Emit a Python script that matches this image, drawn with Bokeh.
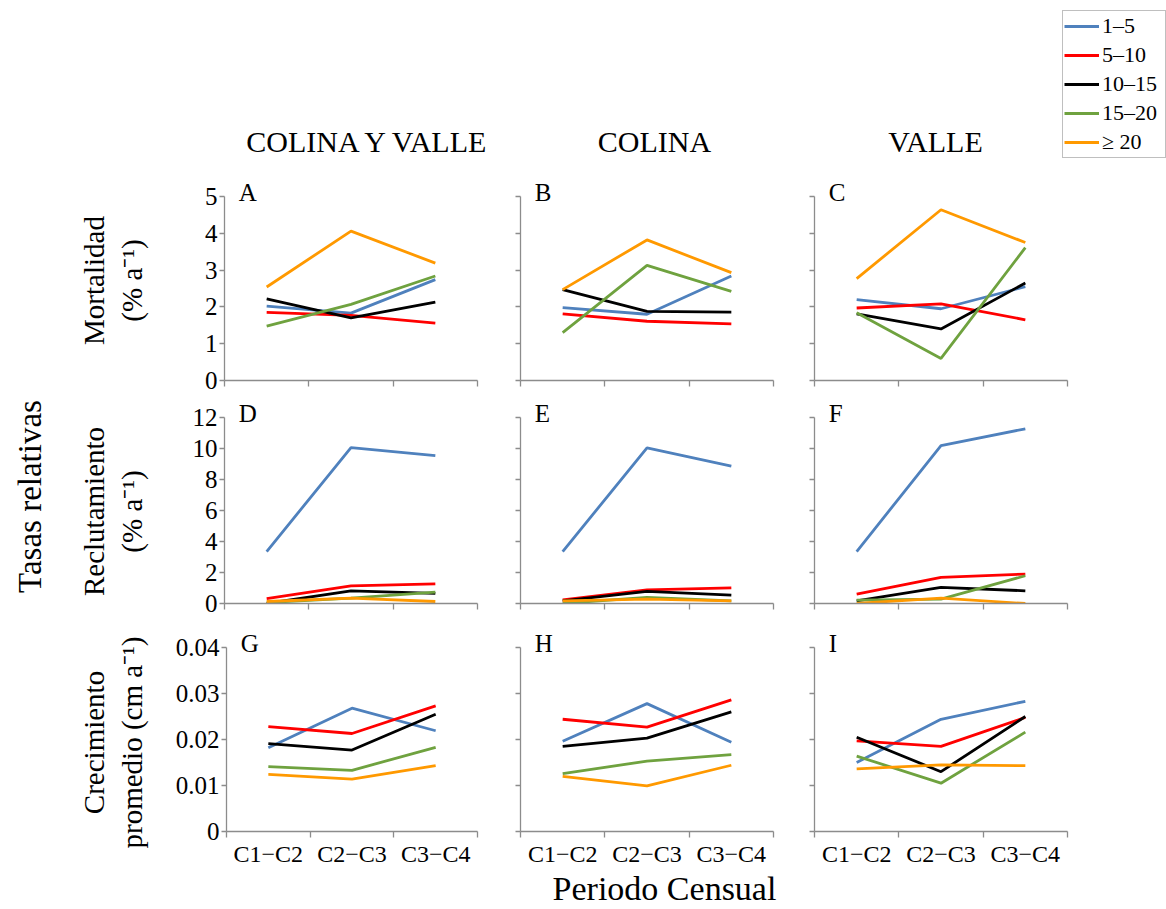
import math
from bokeh.plotting import figure
from bokeh.models import Range1d, FixedTicker, Label, Legend, LegendItem
from bokeh.layouts import row, column
from bokeh.embed import file_html
from bokeh.resources import INLINE

# ---------------- data ----------------
periods = ["C1−C2", "C2−C3", "C3−C4"]
size_classes = ["1–5", "5–10", "10–15", "15–20", "≥ 20"]
colors = ["#4f81bd", "#ff0000", "#000000", "#6fa23f", "#ff9900"]
zones = ["COLINA Y VALLE", "COLINA", "VALLE"]
panel_letters = [["A", "B", "C"], ["D", "E", "F"], ["G", "H", "I"]]

# rows: size classes 1–5, 5–10, 10–15, 15–20, >=20 ; columns: periods
mortalidad_colina_valle = [
    [2.02, 1.83, 2.74],
    [1.85, 1.77, 1.56],
    [2.22, 1.70, 2.13],
    [1.48, 2.07, 2.84],
    [2.54, 4.06, 3.19],
]
mortalidad_colina = [
    [1.98, 1.80, 2.84],
    [1.81, 1.61, 1.54],
    [2.47, 1.88, 1.86],
    [1.30, 3.13, 2.42],
    [2.47, 3.82, 2.93],
]
mortalidad_valle = [
    [2.20, 1.95, 2.55],
    [1.97, 2.08, 1.65],
    [1.81, 1.40, 2.65],
    [1.84, 0.60, 3.61],
    [2.77, 4.64, 3.75],
]
reclutamiento_colina_valle = [
    [3.35, 10.06, 9.54],
    [0.32, 1.14, 1.27],
    [0.00, 0.82, 0.65],
    [0.06, 0.35, 0.73],
    [0.13, 0.35, 0.13],
]
reclutamiento_colina = [
    [3.35, 10.04, 8.87],
    [0.24, 0.88, 1.01],
    [0.17, 0.78, 0.54],
    [0.00, 0.39, 0.17],
    [0.17, 0.28, 0.17],
]
reclutamiento_valle = [
    [3.35, 10.19, 11.27],
    [0.60, 1.68, 1.90],
    [0.17, 1.04, 0.82],
    [0.22, 0.28, 1.79],
    [0.00, 0.35, 0.00],
]
crecimiento_colina_valle = [
    [0.0182, 0.0268, 0.0219],
    [0.0228, 0.0213, 0.0273],
    [0.0191, 0.0177, 0.0255],
    [0.0141, 0.0133, 0.0183],
    [0.0124, 0.0114, 0.0143],
]
crecimiento_colina = [
    [0.0196, 0.0278, 0.0194],
    [0.0244, 0.0227, 0.0286],
    [0.0185, 0.0203, 0.0260],
    [0.0126, 0.0153, 0.0167],
    [0.0120, 0.0099, 0.0144],
]
crecimiento_valle = [
    [0.0150, 0.0244, 0.0283],
    [0.0197, 0.0185, 0.0248],
    [0.0205, 0.0130, 0.0250],
    [0.0164, 0.0105, 0.0216],
    [0.0136, 0.0145, 0.0143],
]

mort_ticks = [0, 1, 2, 3, 4, 5]
mort_labels = ["0", "1", "2", "3", "4", "5"]
recl_ticks = [0, 2, 4, 6, 8, 10, 12]
recl_labels = ["0", "2", "4", "6", "8", "10", "12"]
crec_ticks = [0, 0.01, 0.02, 0.03, 0.04]
crec_labels = ["0", "0.01", "0.02", "0.03", "0.04"]

rows_data = [
    [mortalidad_colina_valle, mortalidad_colina, mortalidad_valle],
    [reclutamiento_colina_valle, reclutamiento_colina, reclutamiento_valle],
    [crecimiento_colina_valle, crecimiento_colina, crecimiento_valle],
]
rows_ticks = [(mort_ticks, mort_labels), (recl_ticks, recl_labels), (crec_ticks, crec_labels)]
row_labels = [("Mortalidad", "(% a⁻¹)"), ("Reclutamiento", "(% a⁻¹)"), ("Crecimiento", "promedio (cm a⁻¹)")]

# ---------------- styling / layout ----------------
FONT = "Liberation Serif"
AXIS_COLOR = "#8c8c8c"
LEFT_W = 172
RIGHT_W = 994
HEADER_H = 176
FOOTER_H = 40
col_w = [325, 297, 293]
col_borders = [(52, 20), (23, 21), (20, 20)]
row_h = [222, 227, 244]
axis_px = [184, 186, 184]          # pixel length of each row's value axis
row_borders = [(20, 18), (19, 22), (22, 38)]
EXT = 18                           # extra frame space above the axis end (for panel letters)
LETTER_UP = 9                      # letter baseline offset above axis end, in px
TOTAL_H = HEADER_H + sum(row_h) + FOOTER_H


def blank_fig(w, h):
    f = figure(width=w, height=h, x_range=Range1d(0, w), y_range=Range1d(0, h),
               x_axis_type=None, y_axis_type=None, toolbar_location=None,
               output_backend="svg", min_border=0, outline_line_color=None)
    f.grid.visible = False
    return f


def make_panel(r, c):
    data = rows_data[r][c]
    ticks, tick_labels = rows_ticks[r]
    ymax = ticks[-1]
    lb, rb = col_borders[c]
    tb, bb = row_borders[r]
    y_end = ymax * (axis_px[r] + EXT) / axis_px[r]
    p = figure(width=col_w[c], height=row_h[r], x_range=Range1d(0, len(periods)),
               y_range=Range1d(0, y_end), toolbar_location=None, output_backend="svg",
               min_border_left=lb, min_border_right=rb, min_border_top=tb - EXT,
               min_border_bottom=bb, outline_line_color=None)
    p.grid.visible = False
    xs = [i + 0.5 for i in range(len(periods))]
    for k, series in enumerate(data):
        p.line(xs, series, line_color=colors[k], line_width=2.8)

    xa = p.xaxis[0]
    xa.ticker = FixedTicker(ticks=xs, minor_ticks=list(range(len(periods) + 1)))
    xa.major_tick_out = 0
    xa.major_tick_in = 0
    xa.minor_tick_out = 6
    xa.minor_tick_in = 0
    xa.axis_line_color = AXIS_COLOR
    xa.axis_line_width = 1.3
    xa.minor_tick_line_color = AXIS_COLOR
    xa.minor_tick_line_width = 1.3
    xa.major_label_standoff = 3
    xa.major_label_text_font = FONT
    xa.major_label_text_font_size = "24px"
    xa.major_label_text_color = "#000000"
    if r == 2:
        xa.major_label_overrides = {x: lab for x, lab in zip(xs, periods)}
    else:
        xa.major_label_overrides = {x: "" for x in xs}

    ya = p.yaxis[0]
    ya.bounds = (0, ymax)
    ya.ticker = FixedTicker(ticks=ticks)
    ya.major_tick_out = 5
    ya.major_tick_in = 0
    ya.minor_tick_line_color = None
    ya.axis_line_color = AXIS_COLOR
    ya.axis_line_width = 1.3
    ya.major_tick_line_color = AXIS_COLOR
    ya.major_tick_line_width = 1.3
    ya.major_label_standoff = 2
    ya.major_label_text_font = FONT
    ya.major_label_text_font_size = "25px"
    ya.major_label_text_color = "#000000"
    if c == 0:
        ya.major_label_overrides = {t: lab for t, lab in zip(ticks, tick_labels)}
    else:
        ya.major_label_overrides = {t: "" for t in ticks}

    letter_y = ymax * (axis_px[r] + LETTER_UP - 5) / axis_px[r]
    p.add_layout(Label(x=0.17, y=letter_y, text=panel_letters[r][c], text_font=FONT,
                       text_font_size="25px", text_baseline="alphabetic",
                       text_align="left", text_color="#000000"))
    return p


panel_rows = []
for r in range(3):
    panel_rows.append(row([make_panel(r, c) for c in range(3)], spacing=0))

# header: column titles + legend
header = blank_fig(RIGHT_W, HEADER_H)
title_x = [368 - LEFT_W, 654 - LEFT_W, 935 - LEFT_W]
for zx, zname in zip(title_x, zones):
    header.add_layout(Label(x=zx, y=HEADER_H - 141, text=zname, text_font=FONT,
                            text_font_size="30px", text_align="center",
                            text_baseline="middle", text_color="#000000"))
items = []
for k, lab in enumerate(size_classes):
    rr = header.line(x=[float("nan")], y=[float("nan")], line_color=colors[k], line_width=3)
    items.append(LegendItem(label=lab, renderers=[rr]))
legend = Legend(items=items, location=(1062 - LEFT_W, HEADER_H - 158),
                border_line_color="#7f7f7f", border_line_width=1.2,
                background_fill_color="white", background_fill_alpha=1,
                label_text_font=FONT, label_text_font_size="22px", label_text_color="#000000",
                glyph_width=35, glyph_height=28, label_height=28, label_width=62,
                spacing=1, padding=1, margin=0, label_standoff=3)
header.add_layout(legend)

# footer: x axis title
footer_top = TOTAL_H - FOOTER_H
footer = blank_fig(RIGHT_W, FOOTER_H)
footer.add_layout(Label(x=664 - LEFT_W, y=FOOTER_H - (888 - footer_top),
                        text="Periodo Censual", text_font=FONT, text_font_size="34px",
                        text_align="center", text_baseline="middle", text_color="#000000"))

# left: row titles
left = blank_fig(LEFT_W, TOTAL_H)


def ly(page_y):
    return TOTAL_H - page_y


left.add_layout(Label(x=29, y=ly(496), text="Tasas relativas", angle=math.pi / 2,
                      text_font=FONT, text_font_size="33px", text_align="center",
                      text_baseline="middle", text_color="#000000"))
row_centers = [280, 511, 742]
for (l1, l2), cy in zip(row_labels, row_centers):
    left.add_layout(Label(x=93, y=ly(cy), text=l1, angle=math.pi / 2, text_font=FONT,
                          text_font_size="29px", text_align="center", text_baseline="middle",
                          text_color="#000000"))
    left.add_layout(Label(x=131, y=ly(cy), text=l2, angle=math.pi / 2, text_font=FONT,
                          text_font_size="29px", text_align="center", text_baseline="middle",
                          text_color="#000000"))

right = column([header] + panel_rows + [footer], spacing=0)
layout = row([left, right], spacing=0)

open("out.html", "w").write(file_html(layout, INLINE))
